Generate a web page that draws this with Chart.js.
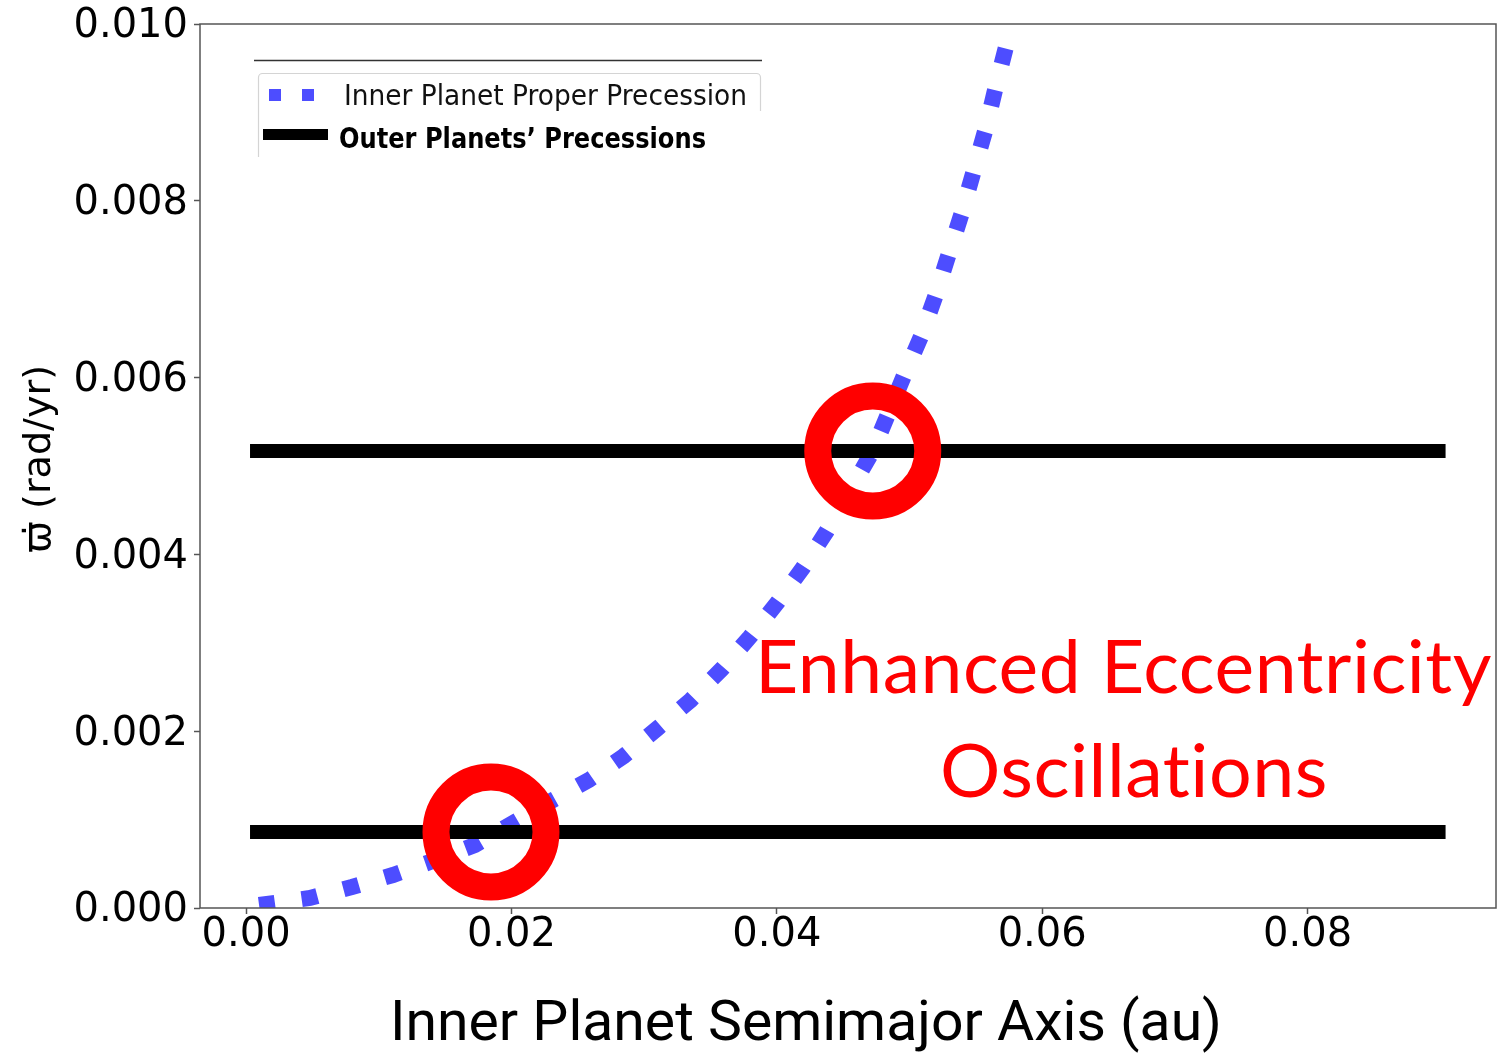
<!DOCTYPE html>
<html lang="en">
<head>
<meta charset="UTF-8">
<title>Inner Planet Precession</title>
<script src="https://cdn.jsdelivr.net/npm/chart.js"></script>
<style>
  html, body { margin: 0; padding: 0; background: #fff; }
  #wrap { width: 1498px; height: 1053px; }
</style>
</head>
<body>
<div id="wrap"><canvas id="grafica"></canvas></div>
<script>
// inner planet: semimajor axis (au) vs proper precession rate (rad/yr)
const innerA = [0.00098, 0.00482, 0.00798, 0.01107, 0.01386, 0.01725, 0.02313, 0.02584,
  0.02847, 0.03104, 0.03352, 0.03586, 0.03797, 0.04008, 0.04196, 0.04377, 0.04723,
  0.04957, 0.05085, 0.05198, 0.05296, 0.05394, 0.05484, 0.05574, 0.05650, 0.05733, 0.05808];
const innerRate = [0.000034, 0.000113, 0.000238, 0.000373, 0.000520, 0.000713, 0.001222, 0.001448,
  0.001719, 0.002036, 0.002353, 0.002704, 0.003066, 0.003462, 0.003846, 0.004265, 0.005170,
  0.006018, 0.006459, 0.006934, 0.007398, 0.007862, 0.008337, 0.008812, 0.009287, 0.009774, 0.010271];

// outer planets' precession rates (rad/yr), flat across the range
const outerRates = [0.00086, 0.00517];
const outerSpan = [0.0003, 0.0904];

// where the inner curve crosses the outer rates
const crossA = [0.01846, 0.04723];
const crossRate = [0.00086, 0.00517];

const xTicks = [0, 0.02, 0.04, 0.06, 0.08];
const yTicks = [0, 0.002, 0.004, 0.006, 0.008, 0.010];

const azul = 'rgb(77,77,255)';

// draws text stretched to a given width, x = left edge, y = baseline
function textoAjustado(ctx, texto, x, y, ancho, fuente, color, espaciado) {
  ctx.save();
  ctx.font = fuente;
  ctx.fillStyle = color;
  ctx.textAlign = 'left';
  ctx.textBaseline = 'alphabetic';
  if (espaciado) ctx.letterSpacing = espaciado;
  const w = ctx.measureText(texto).width;
  ctx.translate(x, y);
  ctx.scale(ancho / w, 1);
  ctx.fillText(texto, 0, 0);
  ctx.restore();
}

// no extra room for tick labels sticking out past the plot box
function sinRelleno(s) {
  s.paddingLeft = 0;
  s.paddingRight = 0;
  s.paddingTop = 0;
  s.paddingBottom = 0;
}

const extras = {
  id: 'extras',
  afterDraw(chart) {
    const ctx = chart.ctx;
    const a = chart.chartArea;

    // frame
    ctx.save();
    ctx.strokeStyle = '#555';
    ctx.lineWidth = 1.5;
    ctx.strokeRect(a.left, a.top, a.right - a.left, a.bottom - a.top);
    ctx.restore();

    // axis titles
    textoAjustado(ctx, 'Inner Planet Semimajor Axis (au)', 390, 1040, 832, '56px Roboto', '#000');
    ctx.save();
    ctx.translate(50, 553);
    ctx.rotate(-Math.PI / 2);
    textoAjustado(ctx, '\u03D6\u0307 (rad/yr)', 0, 0, 188, '38px "DejaVu Sans"', '#000');
    ctx.restore();

    // annotation (a touch of spacing keeps the "ti" pair unligated)
    textoAjustado(ctx, 'Enhanced Eccentricity', 755, 693, 737, '74px Lato', '#ff0000', '0.5px');
    textoAjustado(ctx, 'Oscillations', 940, 797, 388, '74px Lato', '#ff0000', '0.5px');

    // legend
    ctx.save();
    ctx.strokeStyle = '#333';
    ctx.lineWidth = 1.5;
    ctx.beginPath();
    ctx.moveTo(254, 60.5);
    ctx.lineTo(762, 60.5);
    ctx.stroke();
    ctx.strokeStyle = '#d4d4d4';
    ctx.lineWidth = 1.2;
    ctx.beginPath();
    ctx.moveTo(258.5, 157);
    ctx.lineTo(258.5, 78);
    ctx.arcTo(258.5, 73.5, 263, 73.5, 4);
    ctx.lineTo(756, 73.5);
    ctx.arcTo(760.5, 73.5, 760.5, 78, 4);
    ctx.lineTo(760.5, 111);
    ctx.stroke();
    ctx.fillStyle = azul;
    ctx.fillRect(269, 89, 12, 12);
    ctx.fillRect(302, 89, 12, 12);
    ctx.fillStyle = '#000';
    ctx.fillRect(263, 129, 65, 11);
    ctx.restore();
    textoAjustado(ctx, 'Inner Planet Proper Precession', 344, 105, 403, '28px "DejaVu Sans"', '#111');
    textoAjustado(ctx, 'Outer Planets\u2019 Precessions', 339, 148, 367, 'bold 28px "DejaVu Sans"', '#000');
  }
};

const fuenteTicks = { family: 'DejaVu Sans', size: 40 };

new Chart(document.getElementById('grafica'), {
  type: 'line',
  data: {
    datasets: [
      {
        label: 'crossings',
        data: crossA.map((x, i) => ({ x: x, y: crossRate[i] })),
        showLine: false,
        pointRadius: 55,
        pointBorderWidth: 27,
        pointBorderColor: '#ff0000',
        pointBackgroundColor: 'rgba(0,0,0,0)',
        order: 0
      },
      ...outerRates.map(r => ({
        label: 'Outer Planets\u2019 Precessions',
        data: outerSpan.map(x => ({ x: x, y: r })),
        borderColor: '#000',
        borderWidth: 14,
        pointRadius: 0,
        order: 1
      })),
      {
        label: 'Inner Planet Proper Precession',
        data: innerA.map((x, i) => ({ x: x, y: innerRate[i] })),
        borderColor: azul,
        borderWidth: 16,
        borderDash: [16, 27],
        borderCapStyle: 'butt',
        pointRadius: 0,
        order: 2
      }
    ]
  },
  options: {
    responsive: true,
    maintainAspectRatio: false,
    animation: false,
    events: [],
    layout: { autoPadding: false, padding: { left: 0, top: 24, right: 2, bottom: 0 } },
    plugins: { legend: { display: false }, tooltip: { enabled: false } },
    scales: {
      x: {
        type: 'linear',
        min: -0.00347,
        max: 0.0942,
        afterBuildTicks: s => { s.ticks = xTicks.map(v => ({ value: v })); },
        afterFit: s => { s.height = 145; sinRelleno(s); },
        ticks: {
          callback: v => v.toFixed(2),
          font: fuenteTicks,
          color: '#000',
          padding: -2,
          maxRotation: 0,
          autoSkip: false
        },
        grid: { drawOnChartArea: false, drawTicks: true, tickLength: 6, tickColor: '#555', tickWidth: 1.5 },
        border: { display: false }
      },
      y: {
        min: 0,
        max: 0.010,
        afterBuildTicks: s => { s.ticks = yTicks.map(v => ({ value: v })); },
        afterFit: s => { s.width = 200; sinRelleno(s); },
        ticks: {
          callback: v => v.toFixed(3),
          font: fuenteTicks,
          color: '#000',
          padding: 6,
          labelOffset: 3,
          autoSkip: false
        },
        grid: { drawOnChartArea: false, drawTicks: true, tickLength: 6, tickColor: '#555', tickWidth: 1.5 },
        border: { display: false }
      }
    }
  },
  plugins: [extras]
});
</script>
</body>
</html>
